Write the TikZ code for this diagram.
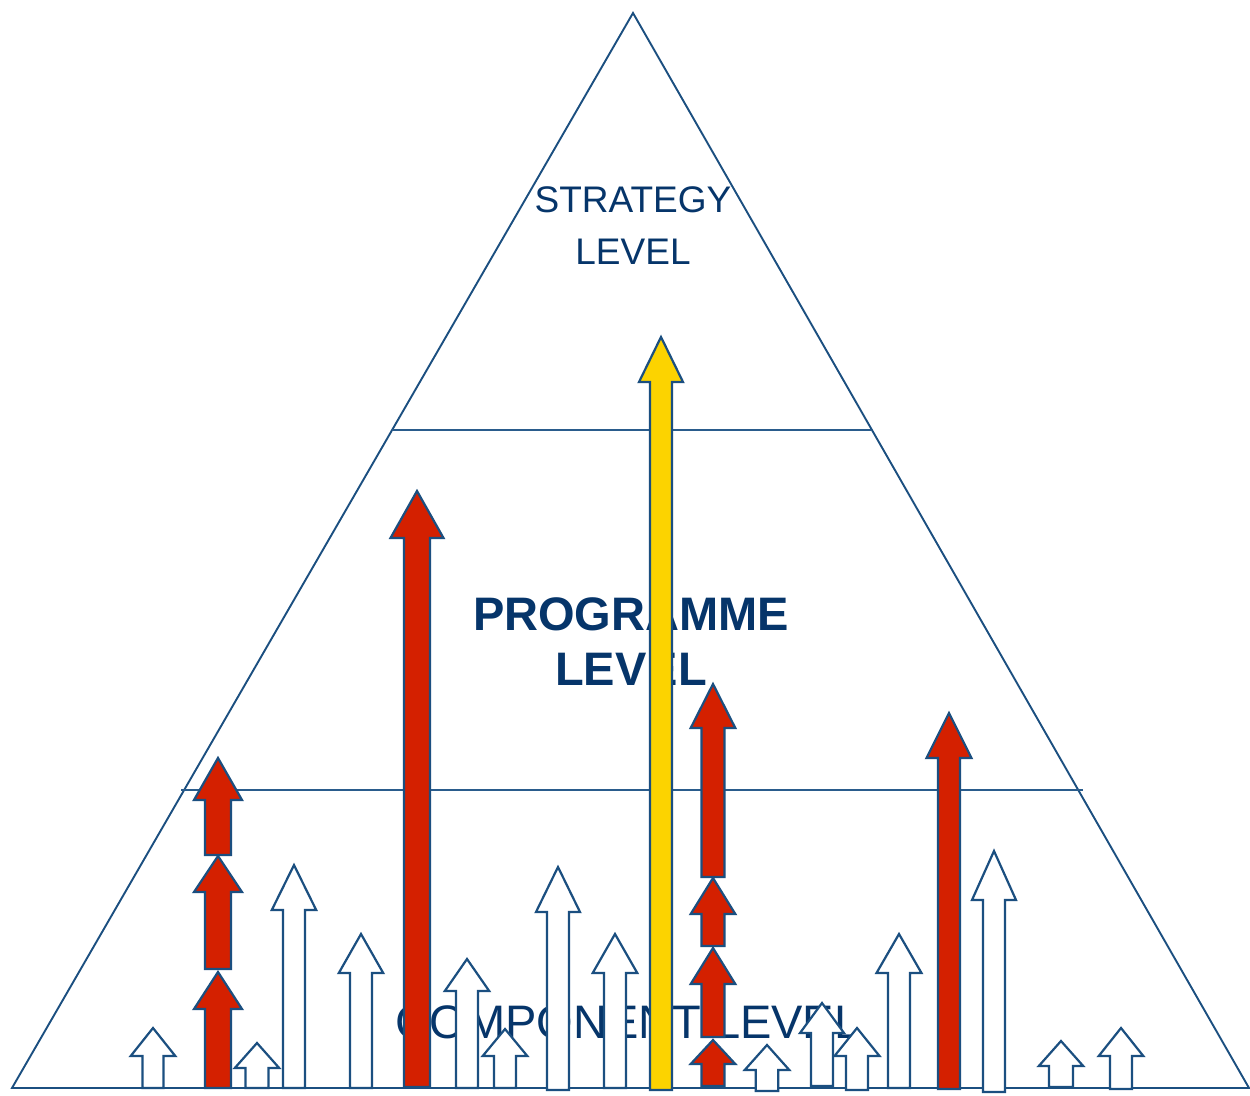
\documentclass[tikz,border=0pt]{standalone}
\usepackage{fontspec}
\setmainfont{Liberation Sans}
\definecolor{navy}{HTML}{1B4F80}
\definecolor{rule}{HTML}{2A5C8C}
\definecolor{labelblue}{HTML}{06356A}
\definecolor{arrowred}{HTML}{D42000}
\definecolor{arrowgold}{HTML}{FCD300}
% block arrow: #1 style, #2 centre x, #3 foot y, #4 head base y, #5 tip y, #6 shaft half-width, #7 head half-width
\newcommand{\blockarrow}[7]{%
  \draw[#1] ({#2-#6},#3) -- ({#2-#6},#4) -- ({#2-#7},#4) -- (#2,#5)
    -- ({#2+#7},#4) -- ({#2+#6},#4) -- ({#2+#6},#3) -- cycle;}
\tikzset{
  outline/.style={draw=navy, line width=1.9pt},
  divider/.style={draw=rule, line width=1.7pt},
  hollow/.style={draw=navy, line width=2.2pt, fill=white, line join=miter},
  redarrow/.style={draw=navy, line width=2.2pt, fill=arrowred, line join=miter},
  goldarrow/.style={draw=navy, line width=2.2pt, fill=arrowgold, line join=miter},
  levellabel/.style={text=labelblue, align=center, inner sep=0pt},
}
\begin{document}
\begin{tikzpicture}[x=1pt, y=-1pt]
\useasboundingbox (0,0) rectangle (1250,1095);
\fill[white] (0,0) rectangle (1250,1095);

% pyramid and level dividers
\coordinate (apex) at (633,13);
\coordinate (bl) at (12,1088);
\coordinate (br) at (1249,1088);
\draw[outline, line join=miter] (bl) -- (apex) -- (br) -- cycle;
\coordinate (d1l) at (392,430);
\coordinate (d1r) at (871,430);
\coordinate (d2l) at (181,790);
\coordinate (d2r) at (1083,790);
\draw[divider] (d1l) -- (d1r);
\draw[divider] (d2l) -- (d2r);

% level names
\node[levellabel, font=\fontsize{37}{52}\selectfont] (strategy) at (633,226) {STRATEGY\\LEVEL};
\node[levellabel, font=\fontsize{47}{55}\selectfont\bfseries] (programme) at (631,642) {PROGRAMME\\LEVEL};
\node[levellabel, font=\fontsize{47}{55}\selectfont] (component) at (628,1022) {COMPONENT LEVEL};

% component-level contributions
\blockarrow{hollow}{153}{1088}{1056}{1028}{10.5}{22.3}
\blockarrow{hollow}{257}{1088}{1068}{1043}{11.5}{22.2}
\blockarrow{hollow}{294}{1088}{910}{865}{11}{22.2}
\blockarrow{hollow}{361}{1088}{973}{934}{11}{22.2}
\blockarrow{hollow}{467}{1088}{991}{959}{11}{22.2}
\blockarrow{hollow}{505}{1088}{1056}{1029}{11}{22.3}
\blockarrow{hollow}{558}{1090}{912}{867}{11}{22}
\blockarrow{hollow}{615}{1088}{973}{934}{11}{22.3}
\blockarrow{hollow}{767}{1091}{1070}{1045}{11.3}{22.3}
\blockarrow{hollow}{822}{1086}{1033}{1003}{11}{22}
\blockarrow{hollow}{857}{1090}{1056}{1028}{11}{22.5}
\blockarrow{hollow}{899}{1088}{973}{934}{11}{22.5}
\blockarrow{hollow}{994}{1092}{900}{851}{11}{22}
\blockarrow{hollow}{1061}{1087}{1066}{1041}{12}{22.2}
\blockarrow{hollow}{1121}{1089}{1056}{1028}{11}{22.3}

% programme-level contributions
\blockarrow{redarrow}{218}{1088}{1009}{972}{13}{24}
\blockarrow{redarrow}{218}{969}{892}{856}{13}{24}
\blockarrow{redarrow}{218}{855}{800}{758}{13}{24}
\blockarrow{redarrow}{417}{1087}{538}{491}{13}{26.5}
\blockarrow{redarrow}{713}{1086}{1064}{1040}{11.5}{22.3}
\blockarrow{redarrow}{713}{1037}{984}{948}{11.5}{22.3}
\blockarrow{redarrow}{713}{946}{914}{878}{11.5}{22.3}
\blockarrow{redarrow}{713}{877}{728}{684}{11.5}{22.3}
\blockarrow{redarrow}{949}{1089}{758}{713}{11}{22.5}

% strategic contribution
\blockarrow{goldarrow}{661}{1090}{382}{337}{11}{22}
\end{tikzpicture}
\end{document}
